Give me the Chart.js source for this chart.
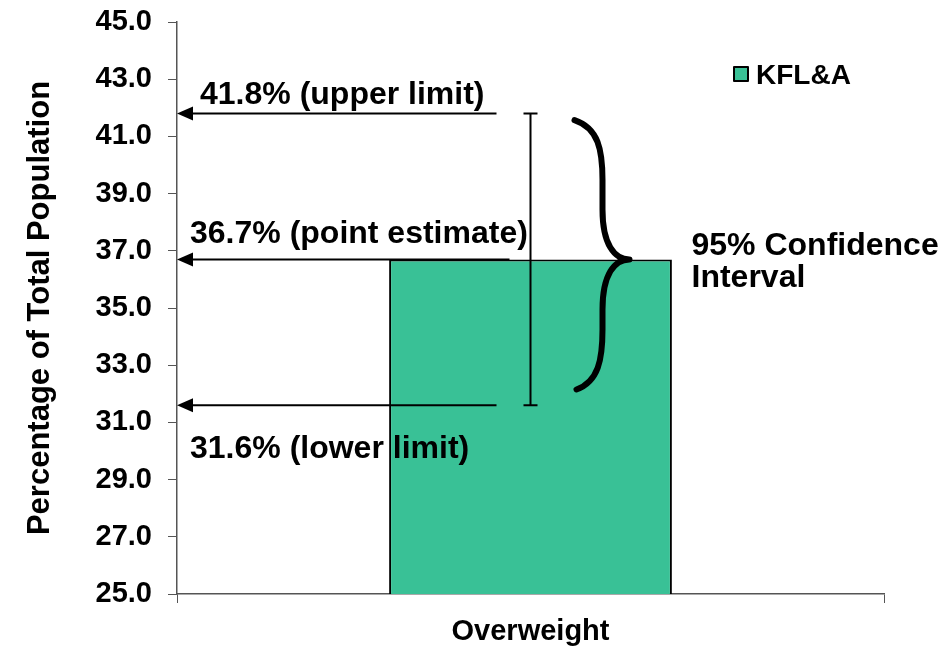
<!DOCTYPE html>
<html>
<head>
<meta charset="utf-8">
<script src="https://cdn.jsdelivr.net/npm/chart.js@4"></script>
<style>
  body { margin: 0; background: #fff; }
  canvas { display: block; }
</style>
</head>
<body>
<canvas id="myChart" width="942" height="646"></canvas>
<script>
const categories = ['Overweight'];
const seriesName = 'KFL&A';
const pointEstimate = [36.7];
const lowerLimit = [31.6];
const upperLimit = [41.8];
const yMin = 25, yMax = 45, yStep = 2;

const barColor = '#39c196';
const FONT = '"Liberation Sans", Arial, sans-serif';

function arrowTo(ctx, x0, x1, y) {
  ctx.beginPath();
  ctx.moveTo(x0, y);
  ctx.lineTo(x1 + 12, y);
  ctx.stroke();
  ctx.beginPath();
  ctx.moveTo(x1, y);
  ctx.lineTo(x1 + 16, y - 7);
  ctx.lineTo(x1 + 16, y + 7);
  ctx.closePath();
  ctx.fill();
}

const annotations = {
  id: 'annotations',
  afterDatasetsDraw(chart) {
    const ctx = chart.ctx;
    const ys = chart.scales.y;
    const area = chart.chartArea;
    const bar = chart.getDatasetMeta(0).data[0];
    const cx = bar.x;
    const yUp = ys.getPixelForValue(upperLimit[0]);
    const yLo = ys.getPixelForValue(lowerLimit[0]);
    const yPt = ys.getPixelForValue(pointEstimate[0]);

    ctx.save();
    ctx.strokeStyle = '#000';
    ctx.fillStyle = '#000';

    // error bar
    ctx.lineWidth = 2;
    ctx.beginPath();
    ctx.moveTo(cx, yUp); ctx.lineTo(cx, yLo);
    ctx.moveTo(cx - 7, yUp); ctx.lineTo(cx + 7, yUp);
    ctx.moveTo(cx - 7, yLo); ctx.lineTo(cx + 7, yLo);
    ctx.stroke();

    // arrows to the axis
    arrowTo(ctx, cx - 34, area.left, yUp);
    arrowTo(ctx, cx - 21, area.left, yPt);
    arrowTo(ctx, cx - 34, area.left, yLo);

    // curly brace
    const yTop = ys.getPixelForValue(41.57);
    const yBot = ys.getPixelForValue(32.15);
    const xa = cx + 44, xs = cx + 72, xt = cx + 99;
    ctx.lineWidth = 6;
    ctx.lineCap = 'round';
    ctx.lineJoin = 'round';
    ctx.beginPath();
    ctx.moveTo(xa, yTop);
    ctx.bezierCurveTo(xs - 4, yTop + 8, xs, yTop + 30, xs, yTop + 60);
    ctx.lineTo(xs, yPt - 50);
    ctx.bezierCurveTo(xs, yPt - 15, xs + 12, yPt, xt, yPt);
    ctx.bezierCurveTo(xs + 12, yPt, xs, yPt + 15, xs, yPt + 50);
    ctx.lineTo(xs, yBot - 60);
    ctx.bezierCurveTo(xs, yBot - 30, xs - 4, yBot - 8, xa + 2, yBot);
    ctx.stroke();

    // texts
    ctx.font = 'bold 32px ' + FONT;
    ctx.textAlign = 'left';
    ctx.textBaseline = 'alphabetic';
    ctx.fillText(upperLimit[0].toFixed(1) + '% (upper limit)', area.left + 23, yUp - 10);
    ctx.fillText(pointEstimate[0].toFixed(1) + '% (point estimate)', area.left + 13, yPt - 16);
    ctx.fillText(lowerLimit[0].toFixed(1) + '% (lower limit)', area.left + 13, yLo + 53);
    ctx.fillText('95% Confidence', xt + 62, yPt - 4);
    ctx.fillText('Interval', xt + 62, yPt + 28);

    // legend
    ctx.lineWidth = 2;
    ctx.fillStyle = barColor;
    ctx.fillRect(734, 67, 14, 14);
    ctx.strokeRect(734, 67, 14, 14);
    ctx.fillStyle = '#000';
    ctx.font = 'bold 28px ' + FONT;
    ctx.fillText(seriesName, 756, 84);
    ctx.restore();
  }
};

new Chart(document.getElementById('myChart'), {
  type: 'bar',
  data: {
    labels: categories,
    datasets: [{
      label: seriesName,
      data: pointEstimate,
      backgroundColor: barColor,
      borderColor: '#000',
      borderWidth: 2,
      barPercentage: 0.4,
      categoryPercentage: 1.0
    }]
  },
  options: {
    responsive: false,
    devicePixelRatio: 1,
    animation: false,
    layout: { padding: { left: 0, right: 58, top: 22, bottom: 0 } },
    plugins: {
      legend: { display: false },
      tooltip: { enabled: false }
    },
    scales: {
      x: {
        afterFit: s => { s.height = 52; },
        grid: { drawOnChartArea: false, tickLength: 9, color: '#555' },
        border: { color: '#555', width: 1.5 },
        ticks: { color: '#000', padding: 12, font: { family: FONT, size: 29, weight: 'bold' } }
      },
      y: {
        min: yMin,
        max: yMax,
        afterFit: s => { s.width = 177; s.paddingTop = 0; s.paddingBottom = 0; },
        grid: { drawOnChartArea: false, tickLength: 9, color: '#555' },
        border: { color: '#555', width: 1.5 },
        ticks: {
          stepSize: yStep,
          color: '#000',
          padding: 16,
          font: { family: FONT, size: 29, weight: 'bold' },
          callback: v => v.toFixed(1)
        },
        title: {
          display: true,
          text: 'Percentage of Total Population',
          color: '#000',
          padding: { top: 22, bottom: 0 },
          font: { family: FONT, size: 31, weight: 'bold' }
        }
      }
    }
  },
  plugins: [annotations]
});
</script>
</body>
</html>
